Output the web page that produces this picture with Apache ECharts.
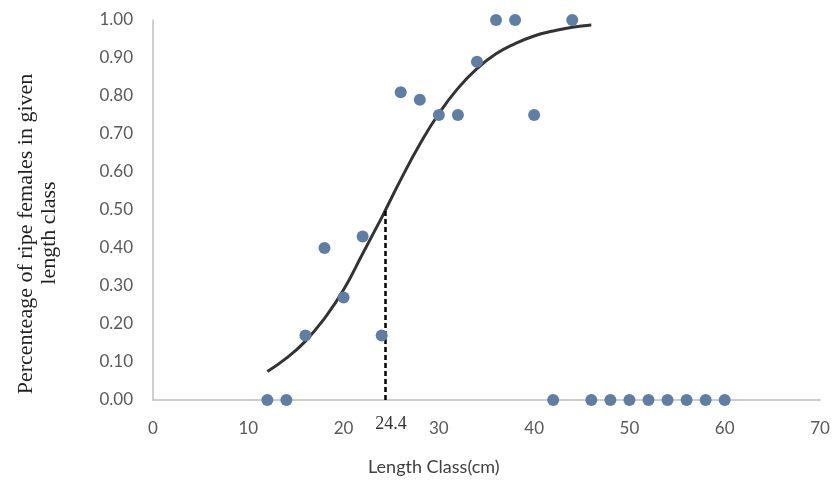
<!DOCTYPE html>
<html><head><meta charset="utf-8">
<script src="https://cdn.jsdelivr.net/npm/echarts@6/dist/echarts.min.js"></script>
<style>html,body{margin:0;padding:0;background:#fff}#c{width:835px;height:495px}</style>
</head><body><div id="c"></div>
<script>
var lengthClass = [12,14,16,18,20,22,24,26,28,30,32,34,36,38,40,42,44,46,48,50,52,54,56,58,60];
var ripeShare   = [0,0,0.17,0.40,0.27,0.43,0.17,0.81,0.79,0.75,0.75,0.89,1.0,1.0,0.75,0,1.0,0,0,0,0,0,0,0,0];
var fitX = [12,14,16,18,20,22,24,24.4,26,28,30,32,34,36,38,40,42,44,46];
var fitY = [0.075,0.11,0.155,0.215,0.29,0.385,0.48,0.5,0.58,0.673,0.754,0.82,0.872,0.911,0.938,0.958,0.971,0.981,0.987];
var l50 = 24.4;
var xTicks = {min:0, max:70, interval:10};
var yTicks = {min:0, max:1, interval:0.1};

var chart = echarts.init(document.getElementById('c'));
var sans = 'Lato';
chart.setOption({
  animation:false,
  grid:{left:153,right:15,top:20,bottom:95},
  xAxis:{type:'value',min:xTicks.min,max:xTicks.max,interval:xTicks.interval,
    axisLine:{show:true,lineStyle:{color:'#bfbfbf',width:1.5}},axisTick:{show:false},splitLine:{show:false},
    axisLabel:{color:'#595959',fontFamily:sans,fontSize:17,margin:20}},
  yAxis:{type:'value',min:yTicks.min,max:yTicks.max,interval:yTicks.interval,
    axisLine:{show:true,lineStyle:{color:'#bfbfbf',width:1.5}},axisTick:{show:false},splitLine:{show:false},
    axisLabel:{color:'#595959',fontFamily:sans,fontSize:17,margin:20,formatter:function(v){return v.toFixed(2);}}},
  series:[
    {type:'line',data:fitX.map(function(x,i){return [x,fitY[i]];}),smooth:true,showSymbol:false,
      lineStyle:{color:'#333333',width:3},z:3},
    {type:'line',data:[[l50,0],[l50,0.5]],showSymbol:false,lineStyle:{color:'#000',width:2.5,type:[5,3]},z:4},
    {type:'scatter',data:lengthClass.map(function(x,i){return [x,ripeShare[i]];}),symbolSize:12,
      itemStyle:{color:'#5f7ea6',opacity:1},z:5}
  ],
  graphic:[
    {type:'text',x:391,y:424,style:{text:'24.4',font:'18px "Liberation Serif"',fill:'#333',align:'center',verticalAlign:'middle'}},
    {type:'text',left:368,top:458,style:{text:'Length Class(cm)',font:'18px '+sans,fill:'#404040'}},
    {type:'text',x:26,y:234,rotation:Math.PI/2,style:{text:'Percenteage of ripe females in given',font:'22px "Liberation Serif"',fill:'#222',align:'center',verticalAlign:'middle'}},
    {type:'text',x:49,y:233,rotation:Math.PI/2,style:{text:'length class',font:'22px "Liberation Serif"',fill:'#222',align:'center',verticalAlign:'middle'}}
  ]
});
</script></body></html>
